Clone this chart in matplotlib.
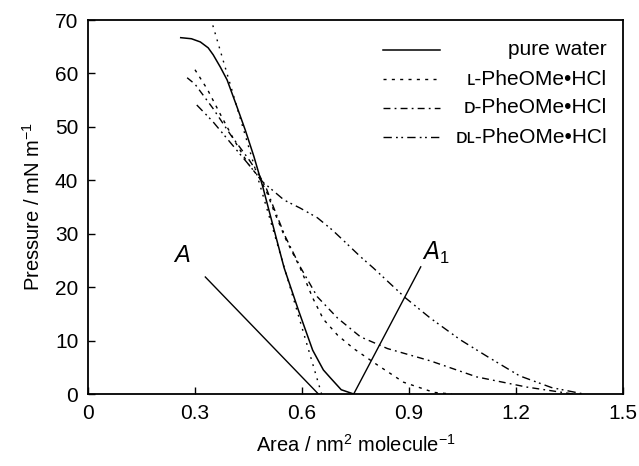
import matplotlib
matplotlib.use("Agg")
import matplotlib.pyplot as plt

plt.rcParams['font.family'] = ['Liberation Sans', 'DejaVu Sans']

# ---- data ----
water_x = [0.26, 0.29, 0.315, 0.337, 0.351, 0.371, 0.39, 0.418, 0.441, 0.465, 0.49, 0.52, 0.55, 0.59, 0.63, 0.66, 0.68, 0.71, 0.745]
water_y = [66.7, 66.5, 65.9, 64.8, 63.5, 61.2, 58.8, 53.7, 49.4, 44.5, 38.8, 31.2, 23.6, 15.7, 8.2, 4.5, 3.0, 0.8, 0.0]

l_x = [0.30, 0.335, 0.37, 0.41, 0.45, 0.48, 0.50, 0.52, 0.553, 0.595, 0.63, 0.66, 0.70, 0.745, 0.81, 0.885, 0.97, 1.02]
l_y = [60.7, 57.0, 52.5, 47.5, 43.0, 40.5, 38.0, 34.5, 29.2, 23.6, 18.0, 14.0, 11.0, 8.5, 5.5, 2.2, 0.3, 0.0]

d_x = [0.278, 0.30, 0.35, 0.40, 0.45, 0.48, 0.50, 0.52, 0.553, 0.595, 0.643, 0.70, 0.764, 0.84, 0.96, 1.09, 1.23, 1.36]
d_y = [59.2, 58.0, 53.5, 48.5, 44.0, 41.0, 38.5, 35.0, 29.5, 23.8, 18.2, 14.2, 10.7, 8.5, 6.2, 3.2, 1.3, 0.0]

dl_x = [0.305, 0.35, 0.40, 0.45, 0.49, 0.55, 0.595, 0.643, 0.685, 0.72, 0.764, 0.80, 0.89, 0.96, 1.045, 1.12, 1.21, 1.30, 1.39]
dl_y = [54.1, 51.0, 47.0, 43.0, 39.7, 36.3, 34.8, 33.0, 30.7, 28.5, 25.7, 23.6, 18.0, 14.2, 10.1, 7.0, 3.4, 1.2, 0.0]

# extrapolation of the condensed region (dotted straight line)
extrap_x = [0.35, 0.655]
extrap_y = [69.0, 0.0]

# pointer lines for the limiting areas
a_x = [0.329, 0.646]
a_y = [21.9, 0.0]
a1_x = [0.745, 0.933]
a1_y = [0.0, 23.8]

labels = ['pure water', 'ʟ-PheOMe•HCl', 'ᴅ-PheOMe•HCl', 'ᴅʟ-PheOMe•HCl']
xticks = [0, 0.3, 0.6, 0.9, 1.2, 1.5]
xticklabels = ['0', '0.3', '0.6', '0.9', '1.2', '1.5']
yticks = [0, 10, 20, 30, 40, 50, 60, 70]

# ---- figure ----
fig = plt.figure(figsize=(6.39, 4.66), dpi=100)
ax = fig.add_axes([0.1377, 0.1545, 0.8372, 0.8025])

styles = [
    dict(color='black', lw=1.1, ls='-'),
    dict(color='black', lw=1.0, ls=(0, (2.2, 3.8))),
    dict(color='black', lw=1.0, ls=(0, (5, 3, 1.3, 3))),
    dict(color='black', lw=1.0, ls=(0, (6, 3, 1.3, 2.5, 1.3, 3))),
]

series = [(water_x, water_y), (l_x, l_y), (d_x, d_y), (dl_x, dl_y)]
for (xs, ys), st in zip(series, styles):
    ax.plot(xs, ys, **st)

ax.plot(extrap_x, extrap_y, color='black', lw=1.0, ls=(0, (1.3, 4.0)))
ax.plot(a_x, a_y, color='black', lw=1.0)
ax.plot(a1_x, a1_y, color='black', lw=1.0)

ax.text(0.265, 26.0, 'A', fontsize=17, fontstyle='italic', ha='center', va='center')
ax.text(0.975, 26.5, r'$\mathit{A}_{\mathregular{1}}$', fontsize=17, ha='center', va='center')

# manual legend (right-aligned labels, as in the reference)
rows = [0.920, 0.842, 0.765, 0.687]
for yy, st, lab in zip(rows, styles, labels):
    ax.plot([0.551, 0.658], [yy, yy], transform=ax.transAxes, **st)
    ax.text(0.970, yy, lab, transform=ax.transAxes, ha='right', va='center', fontsize=15)

ax.set_xlim(0, 1.5)
ax.set_ylim(0, 70)
ax.set_xticks(xticks)
ax.set_xticklabels(xticklabels)
ax.set_yticks(yticks)
ax.tick_params(direction='in', length=5, width=1, labelsize=15, pad=7)
for s in ax.spines.values():
    s.set_linewidth(1.3)

ax.set_xlabel('Area / nm$^{\\mathregular{2}}$ molecule$^{\\mathregular{-1}}$', fontsize=14.5, labelpad=8)
ax.set_ylabel('Pressure / mN m$^{\\mathregular{-1}}$', fontsize=14.5, labelpad=8)

fig.savefig('out.png', dpi=100)
